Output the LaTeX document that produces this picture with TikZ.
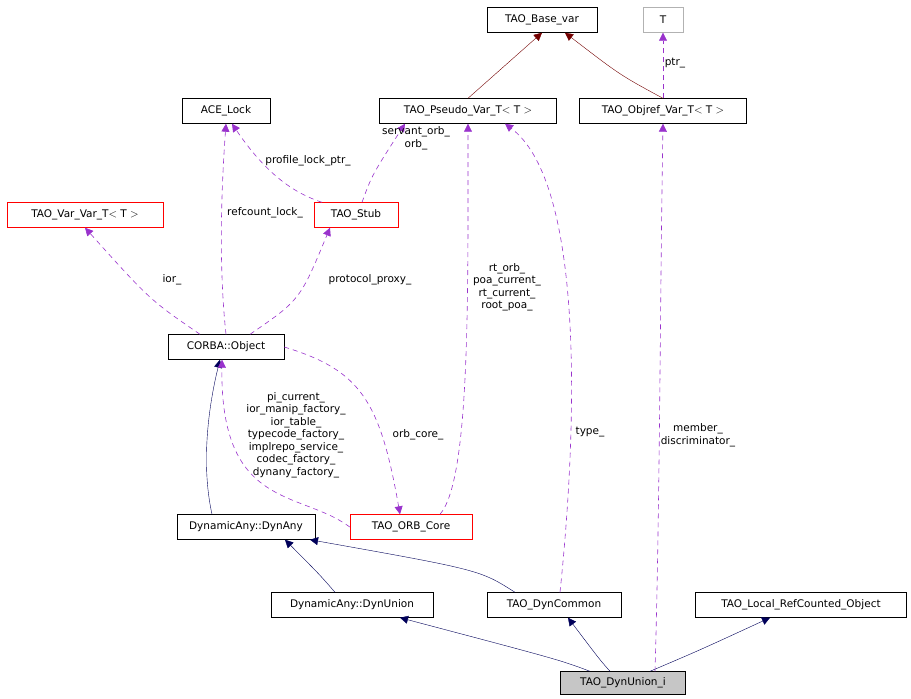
\documentclass[tikz,border=0pt]{standalone}
\usepackage{fontspec}
\setmainfont{DejaVu Sans}
\usetikzlibrary{arrows.meta}
\definecolor{usecol}{RGB}{153,50,204}
\tikzset{
  every node/.style={font=\fontsize{10.5}{12.5}\selectfont, inner sep=0pt},
  box/.style={draw=black, fill=white, minimum height=25pt, anchor=center},
  redbox/.style={box, draw=red},
  lbl/.style={align=center, fill=none, draw=none},
  inherit/.style={draw=blue!35!black, -{Triangle[length=8pt,width=8pt]}},
  base/.style={draw=red!45!black, -{Triangle[length=8pt,width=8pt]}},
  use/.style={draw=usecol, line width=0.6pt, dashed, dash pattern=on 5pt off 4pt, -{Triangle[length=8pt,width=8pt]}, fill=none}
}
\begin{document}
\begin{tikzpicture}[x=1pt, y=-1pt]
  \useasboundingbox (0,0) rectangle (911,699);
  % Nodes
  \node (basevar) [box, minimum width=110pt] at (542,20) {TAO\_Base\_var};
  \node (t) [box, draw=gray!60, minimum width=40pt] at (663,20) {T};
  \node (acelock) [box, minimum width=88pt] at (226,111) {ACE\_Lock};
  \node (pseudo) [box, minimum width=177pt] at (468,111) {TAO\_Pseudo\_Var\_T$<$ T $>$};
  \node (objref) [box, minimum width=167pt] at (663,111) {TAO\_Objref\_Var\_T$<$ T $>$};
  \node (varvar) [redbox, minimum width=156pt] at (85,215) {TAO\_Var\_Var\_T$<$ T $>$};
  \node (stub) [redbox, minimum width=84pt] at (356,215) {TAO\_Stub};
  \node (corba) [box, minimum width=116pt] at (226,347) {CORBA::Object};
  \node (dynany) [box, minimum width=138pt] at (246,527) {DynamicAny::DynAny};
  \node (orbcore) [redbox, minimum width=122pt] at (411,527) {TAO\_ORB\_Core};
  \node (dynunion) [box, minimum width=162pt] at (352,605) {DynamicAny::DynUnion};
  \node (dyncommon) [box, minimum width=134pt] at (554,605) {TAO\_DynCommon};
  \node (localrc) [box, minimum width=211pt] at (801,605) {TAO\_Local\_RefCounted\_Object};
  \node (dynunioni) [box, fill=gray!45, minimum width=125pt, minimum height=23pt] at (623,683) {TAO\_DynUnion\_i};

  % Inheritance
  \draw[base] (pseudo.north) -- (basevar.south);
  \draw[base] (objref.north) .. controls (620,75) .. (basevar.south -| 565,0);
  \draw[inherit] (dynany.north -| 212,0) .. controls (200,460) and (210,400) .. (corba.south -| 220,0);
  \draw[inherit] (dynunion.north -| 335,0) .. controls (320,575) .. (dynany.south -| 285,0);
  \draw[inherit] (dyncommon.north -| 515,0) .. controls (480,570) .. (dynany.south -| 310,0);
  \draw[inherit] (dynunioni.north -| 590,0) .. controls (560,660) .. (dynunion.south -| 400,0);
  \draw[inherit] (dynunioni.north -| 610,0) .. controls (600,660) .. (dyncommon.south -| 568,0);
  \draw[inherit] (dynunioni.north -| 650,0) .. controls (700,650) .. (localrc.south -| 770,0);

  % Usage
  \draw[use] (objref.north) -- (t.south) node[lbl] at (675,63) {ptr\_};
  \draw[use] (stub.north -| 322,0) .. controls (300,195) and (270,180) .. (acelock.south -| 232,0) node[lbl] at (308,161) {profile\_lock\_ptr\_};
  \draw[use] (corba.north) .. controls (218,260) and (222,180) .. (acelock.south) node[lbl] at (265,213) {refcount\_lock\_};
  \draw[use] (stub.north -| 362,0) .. controls (372,175) .. (pseudo.south -| 405,0) node[lbl] at (416,138) {servant\_orb\_\\orb\_};
  \draw[use] (corba.north -| 200,0) .. controls (150,300) .. (varvar.south) node[lbl] at (172,280) {ior\_};
  \draw[use] (corba.north -| 250,0) .. controls (300,300) .. (stub.south -| 330,0) node[lbl] at (370,280) {protocol\_proxy\_};
  \draw[use] (orbcore.north -| 440,0) .. controls (470,480) and (468,300) .. (pseudo.south) node[lbl] at (507,287) {rt\_orb\_\\poa\_current\_\\rt\_current\_\\root\_poa\_};
  \draw[use] (dyncommon.north -| 560,0) .. controls (580,400) and (580,180) .. (pseudo.south -| 505,0) node[lbl] at (590,432) {type\_};
  \draw[use] (dynunioni.north -| 655,0) .. controls (660,500) and (660,300) .. (objref.south) node[lbl] at (698,435) {member\_\\discriminator\_};
  \draw[use] (orbcore.west) .. controls (300,490) and (220,510) .. (corba.south -| 222,0) node[lbl] at (296,435) {pi\_current\_\\ior\_manip\_factory\_\\ior\_table\_\\typecode\_factory\_\\implrepo\_service\_\\codec\_factory\_\\dynany\_factory\_};
  \draw[use] (corba.east) .. controls (360,370) and (380,400) .. (orbcore.north -| 400,0) node[lbl] at (418,435) {orb\_core\_};
\end{tikzpicture}
\end{document}
